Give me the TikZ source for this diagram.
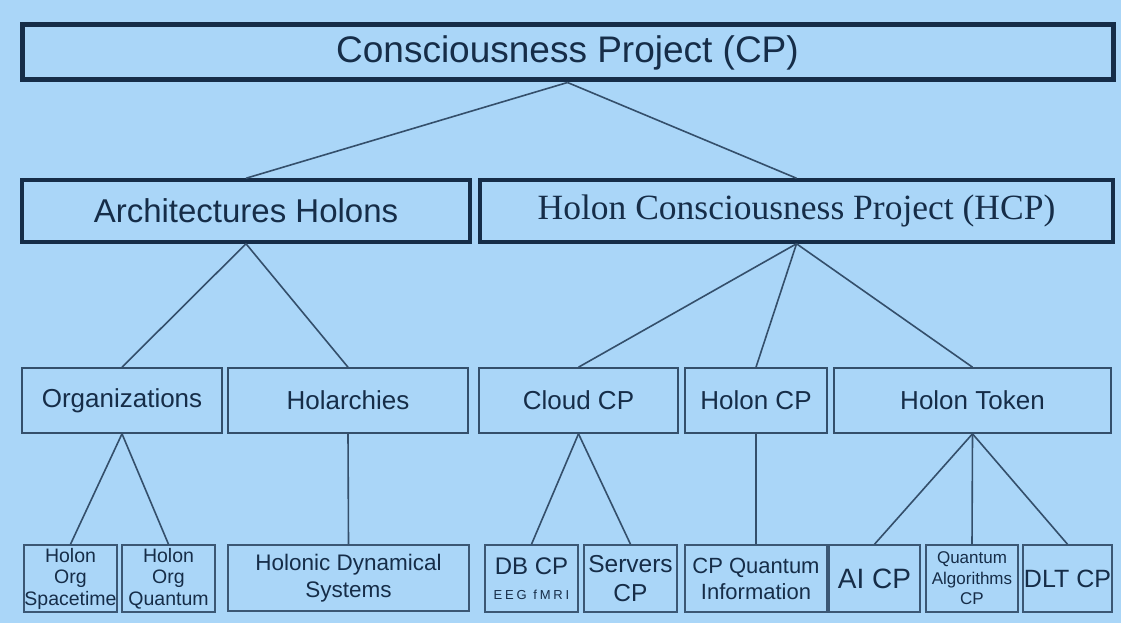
\documentclass[tikz,border=0pt]{standalone}
\usepackage{fontspec}
\setmainfont{Liberation Sans}
\newfontfamily\hcpfont{Liberation Serif}
\newfontfamily\eegfont{Liberation Sans}[LetterSpace=22]
\definecolor{bgblue}{RGB}{170,214,248}
\definecolor{navy}{RGB}{22,45,72}

\begin{document}
\begin{tikzpicture}[x=1pt,y=-1pt,
  topbox/.style={draw=navy,line width=5pt,inner sep=0pt,text=navy},
  headbox/.style={draw=navy,line width=3.5pt,inner sep=0pt,text=navy,minimum height=62},
  subbox/.style={draw=navy!80!bgblue,line width=1.6pt,inner sep=0pt,text=navy,align=center,minimum height=65,
    font=\fontsize{26}{30}\selectfont},
  leafbox/.style={draw=navy!75!bgblue,line width=1.5pt,inner sep=0pt,text=navy,align=center,minimum height=67},
  link/.style={draw=navy!80!bgblue,line width=1.6pt}]
\fill[bgblue] (0,0) rectangle (1121,623);
\useasboundingbox (0,0) rectangle (1121,623);

\node[topbox,minimum width=1091,minimum height=55,font=\fontsize{37}{40}\selectfont] (cp) at (567.5,52.5)
  {Consciousness Project (CP)};

\node[headbox,minimum width=448,font=\fontsize{33}{36}\selectfont] (arch) at (246,211)
  {Architectures Holons};
\node[headbox,minimum width=633,font=\hcpfont\fontsize{35.5}{38}\selectfont] (hcp) at (796.5,211)
  {Holon Consciousness Project (HCP)};

\node[subbox,minimum width=200] (org) at (122,400.5) {Organizations};
\node[subbox,minimum width=240] (hol) at (348,400.5) {Holarchies};
\node[subbox,minimum width=199] (cloud) at (578.5,400.5) {Cloud CP};
\node[subbox,minimum width=142] (holcp) at (756,400.5) {Holon CP};
\node[subbox,minimum width=277] (token) at (972.5,400.5) {Holon Token};

\node[leafbox,minimum width=93,font=\fontsize{19.5}{21.5}\selectfont] (space) at (70.5,578.5)
  {Holon\\Org\\Spacetime};
\node[leafbox,minimum width=93,font=\fontsize{19.5}{21.5}\selectfont] (quant) at (168.5,578.5)
  {Holon\\Org\\Quantum};
\node[leafbox,minimum width=241,minimum height=66,font=\fontsize{22.5}{27}\selectfont] (dyn) at (348.5,578)
  {Holonic Dynamical\\Systems};
\node[leafbox,minimum width=93,font=\fontsize{24}{25}\selectfont] (db) at (531.5,578.5)
  {DB CP\\{\eegfont\fontsize{13}{14}\selectfont EEG fMRI}};
\node[leafbox,minimum width=93,font=\fontsize{24.5}{29}\selectfont] (serv) at (630.5,578.5)
  {Servers\\CP};
\node[leafbox,minimum width=142,font=\fontsize{22}{26}\selectfont] (qinfo) at (756,578.5)
  {CP Quantum\\Information};
\node[leafbox,minimum width=91,font=\fontsize{28}{30}\selectfont] (ai) at (874.5,578.5)
  {AI CP};
\node[leafbox,minimum width=92,font=\fontsize{17}{20.5}\selectfont] (qalg) at (972,578.5)
  {Quantum\\Algorithms\\CP};
\node[leafbox,minimum width=89,font=\fontsize{25}{28}\selectfont] (dlt) at (1067.5,578.5)
  {DLT CP};

\draw[link] (cp.south) -- (arch.north);
\draw[link] (cp.south) -- (hcp.north);

\draw[link] (arch.south) -- (org.north);
\draw[link] (arch.south) -- (hol.north);
\draw[link] (hcp.south) -- (cloud.north);
\draw[link] (hcp.south) -- (holcp.north);
\draw[link] (hcp.south) -- (token.north);

\draw[link] (org.south) -- (space.north);
\draw[link] (org.south) -- (quant.north);
\draw[link] (hol.south) -- (dyn.north);
\draw[link] (cloud.south) -- (db.north);
\draw[link] (cloud.south) -- (serv.north);
\draw[link] (holcp.south) -- (qinfo.north);
\draw[link] (token.south) -- (ai.north);
\draw[link] (token.south) -- (qalg.north);
\draw[link] (token.south) -- (dlt.north);
\end{tikzpicture}
\end{document}
